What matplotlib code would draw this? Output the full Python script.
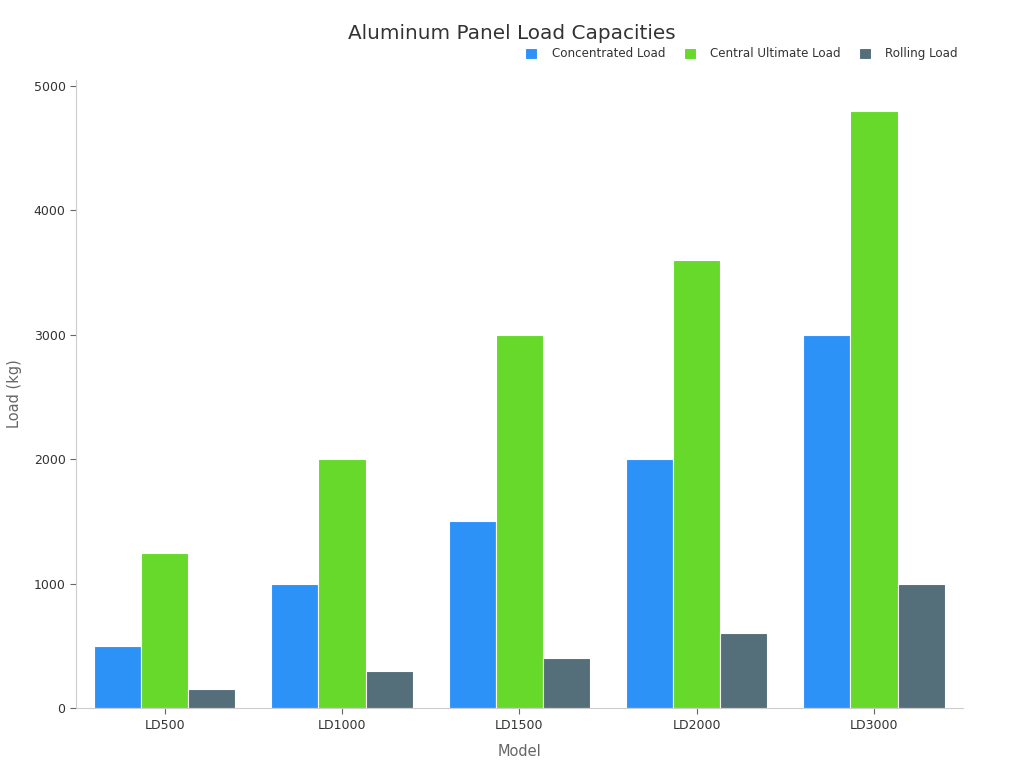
import numpy as np
import matplotlib
matplotlib.use('Agg')
import matplotlib.pyplot as plt

models = ['LD500', 'LD1000', 'LD1500', 'LD2000', 'LD3000']
concentrated = [500, 1000, 1500, 2000, 3000]
central_ultimate = [1250, 2000, 3000, 3600, 4800]
rolling = [150, 300, 400, 600, 1000]

series = [
    ('Concentrated Load', concentrated, '#2d92f8'),
    ('Central Ultimate Load', central_ultimate, '#66d92a'),
    ('Rolling Load', rolling, '#546e7a'),
]

fig = plt.figure(figsize=(10.24, 7.68), dpi=100)
ax = fig.add_axes([0.0742, 0.078, 0.866, 0.818])

x = np.arange(len(models))
w = 0.266
for i, (name, vals, color) in enumerate(series):
    ax.bar(x + (i - 1) * w, vals, w, color=color, edgecolor='white', linewidth=0.8, label=name)

ax.set_xlim(-0.5, 4.5)
ax.set_ylim(0, 5050)
ax.set_xticks(x)
ax.set_xticklabels(models)
ax.set_yticks([0, 1000, 2000, 3000, 4000, 5000])
ax.tick_params(labelsize=9, colors='#333333', length=4)
ax.tick_params(axis='x', color='#666666')
ax.tick_params(axis='y', color='#666666')

for s in ['top', 'right']:
    ax.spines[s].set_visible(False)
for s in ['left', 'bottom']:
    ax.spines[s].set_color('#cccccc')

ax.set_xlabel('Model', fontsize=10.5, color='#666666', labelpad=9)
ax.set_ylabel('Load (kg)', fontsize=10.5, color='#666666', labelpad=8)

fig.text(0.5, 0.957, 'Aluminum Panel Load Capacities', ha='center', va='center',
         fontsize=14.4, color='#333333')

fig.legend(loc='center right', bbox_to_anchor=(0.946, 0.930), ncol=3, frameon=False,
           fontsize=8.6, handlelength=1.0, handleheight=1.0, columnspacing=1.55,
           handletextpad=1.2, labelcolor='#333333')

fig.savefig('out.png', dpi=100)
